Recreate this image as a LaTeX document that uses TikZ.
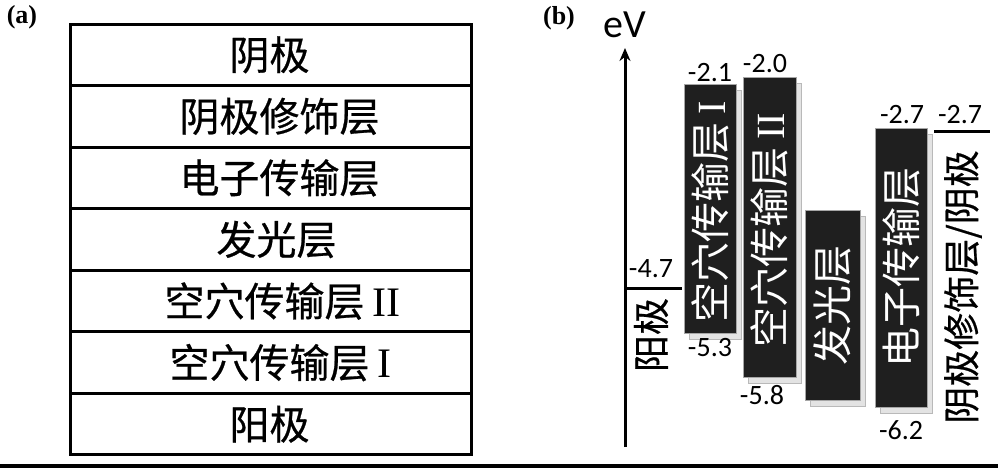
\documentclass[tikz,border=0pt]{standalone}
\usepackage{fontspec}
\setmainfont{Liberation Serif}
\newfontfamily\cjk{Noto Sans CJK SC}
\newfontfamily\cjkb{Noto Sans CJK SC}[FakeBold=0.6]
\newfontfamily\calfont{Carlito}
\usetikzlibrary{arrows.meta,shadows}
\begin{document}
\begin{tikzpicture}[x=1pt,y=-1pt,
 layer/.style={draw, line width=3pt, minimum width=401pt, minimum height=61.57pt, inner sep=0pt, outer sep=0pt},
 ltext/.style={inner sep=0pt, font=\fontsize{40}{42}\selectfont\cjkb},
 bar/.style={fill=black!88, draw=gray!70, line width=0.6pt, inner sep=0pt, outer sep=0pt,
   drop shadow={shadow xshift=5pt, shadow yshift=-6pt, fill=gray!22, draw=gray!55, line width=0.6pt, opacity=1}},
 bartext/.style={text=white, rotate=90, font=\fontsize{40}{42}\selectfont\cjk, inner sep=0pt},
 sidetext/.style={rotate=90, font=\fontsize{37}{38}\selectfont\cjkb, inner sep=0pt},
 num/.style={font=\fontsize{28}{29}\selectfont\calfont, inner sep=0pt},
 lvl/.style={line width=3pt},
 panel/.style={font=\fontsize{26}{28}\selectfont\bfseries, inner sep=0pt}]

\useasboundingbox (0,0) rectangle (998,468);
\fill (0,464) rectangle (998,468);

% ---------- panel (a) ----------
\node[panel] (pa) at (22,17) {(a)};
\node[layer] (r1) at (270.5,54.8) {};
\node[layer] (r2) at (270.5,116.4) {};
\node[layer] (r3) at (270.5,177.9) {};
\node[layer] (r4) at (270.5,239.5) {};
\node[layer] (r5) at (270.5,301.1) {};
\node[layer] (r6) at (270.5,362.6) {};
\node[layer] (r7) at (270.5,424.2) {};
\node[ltext] (t1) at ([xshift=-1pt]r1.center) {阴极};
\node[ltext] (t2) at ([xshift=9pt]r2.center) {阴极修饰层};
\node[ltext] (t3) at ([xshift=9pt]r3.center) {电子传输层};
\node[ltext] (t4) at ([xshift=6pt]r4.center) {发光层};
\node[ltext] (t5) at ([xshift=12pt]r5.center) {空穴传输层\hspace{0.2em}{\rmfamily\fontsize{42}{42}\selectfont II}};
\node[ltext] (t6) at ([xshift=10pt]r6.center) {空穴传输层\hspace{0.2em}{\rmfamily\fontsize{42}{42}\selectfont I}};
\node[ltext] (t7) at ([xshift=-1pt]r7.center) {阳极};

% ---------- panel (b) ----------
\node[panel] (pb) at (559,18) {(b)};
\node[font=\fontsize{40}{40}\selectfont\calfont, inner sep=0pt] (ev) at (624.5,25) {eV};
\coordinate (axbot) at (625,447);
\coordinate (axtop) at (625,48);
\draw[line width=3pt, -{Stealth[length=13pt,width=11pt]}] (axbot) -- (axtop);

\coordinate (an1) at (625,288);
\coordinate (an2) at (682,288);
\draw[lvl] (an1) -- (an2);
\coordinate (ca1) at (934,132);
\coordinate (ca2) at (990,132);
\draw[lvl] (ca1) -- (ca2);

\node[bar, minimum width=52pt, minimum height=249pt] (htl1) at (710,208.5) {};
\node[bar, minimum width=53pt, minimum height=300pt] (htl2) at (769.5,227) {};
\node[bar, minimum width=55pt, minimum height=190pt] (eml) at (832.5,305) {};
\node[bar, minimum width=52pt, minimum height=279pt] (etl) at (901,267.5) {};

\node[bartext] (bt1) at ([yshift=-3pt]htl1.center) {空穴传输层\hspace{0.2em}{\rmfamily I}};
\node[bartext] (bt2) at ([yshift=-3pt]htl2.center) {空穴传输层\hspace{0.2em}{\rmfamily II}};
\node[bartext] (bt3) at (eml.center) {发光层};
\node[bartext] (bt4) at (etl.center) {电子传输层};

\node[sidetext] (antext) at (651,335) {阳极};
\node[sidetext] (catext) at (963,287) {阴极修饰层/阴极};

\node[num] (n21) at (710,72.5) {-2.1};
\node[num] (n20) at (765,63.5) {-2.0};
\node[num] (n53) at (710,347.5) {-5.3};
\node[num] (n58) at (762,395) {-5.8};
\node[num] (n27a) at (902,114.5) {-2.7};
\node[num] (n62) at (901,430) {-6.2};
\node[num] (n47) at (651,268.5) {-4.7};
\node[num] (n27b) at (960,114.5) {-2.7};
\end{tikzpicture}
\end{document}
